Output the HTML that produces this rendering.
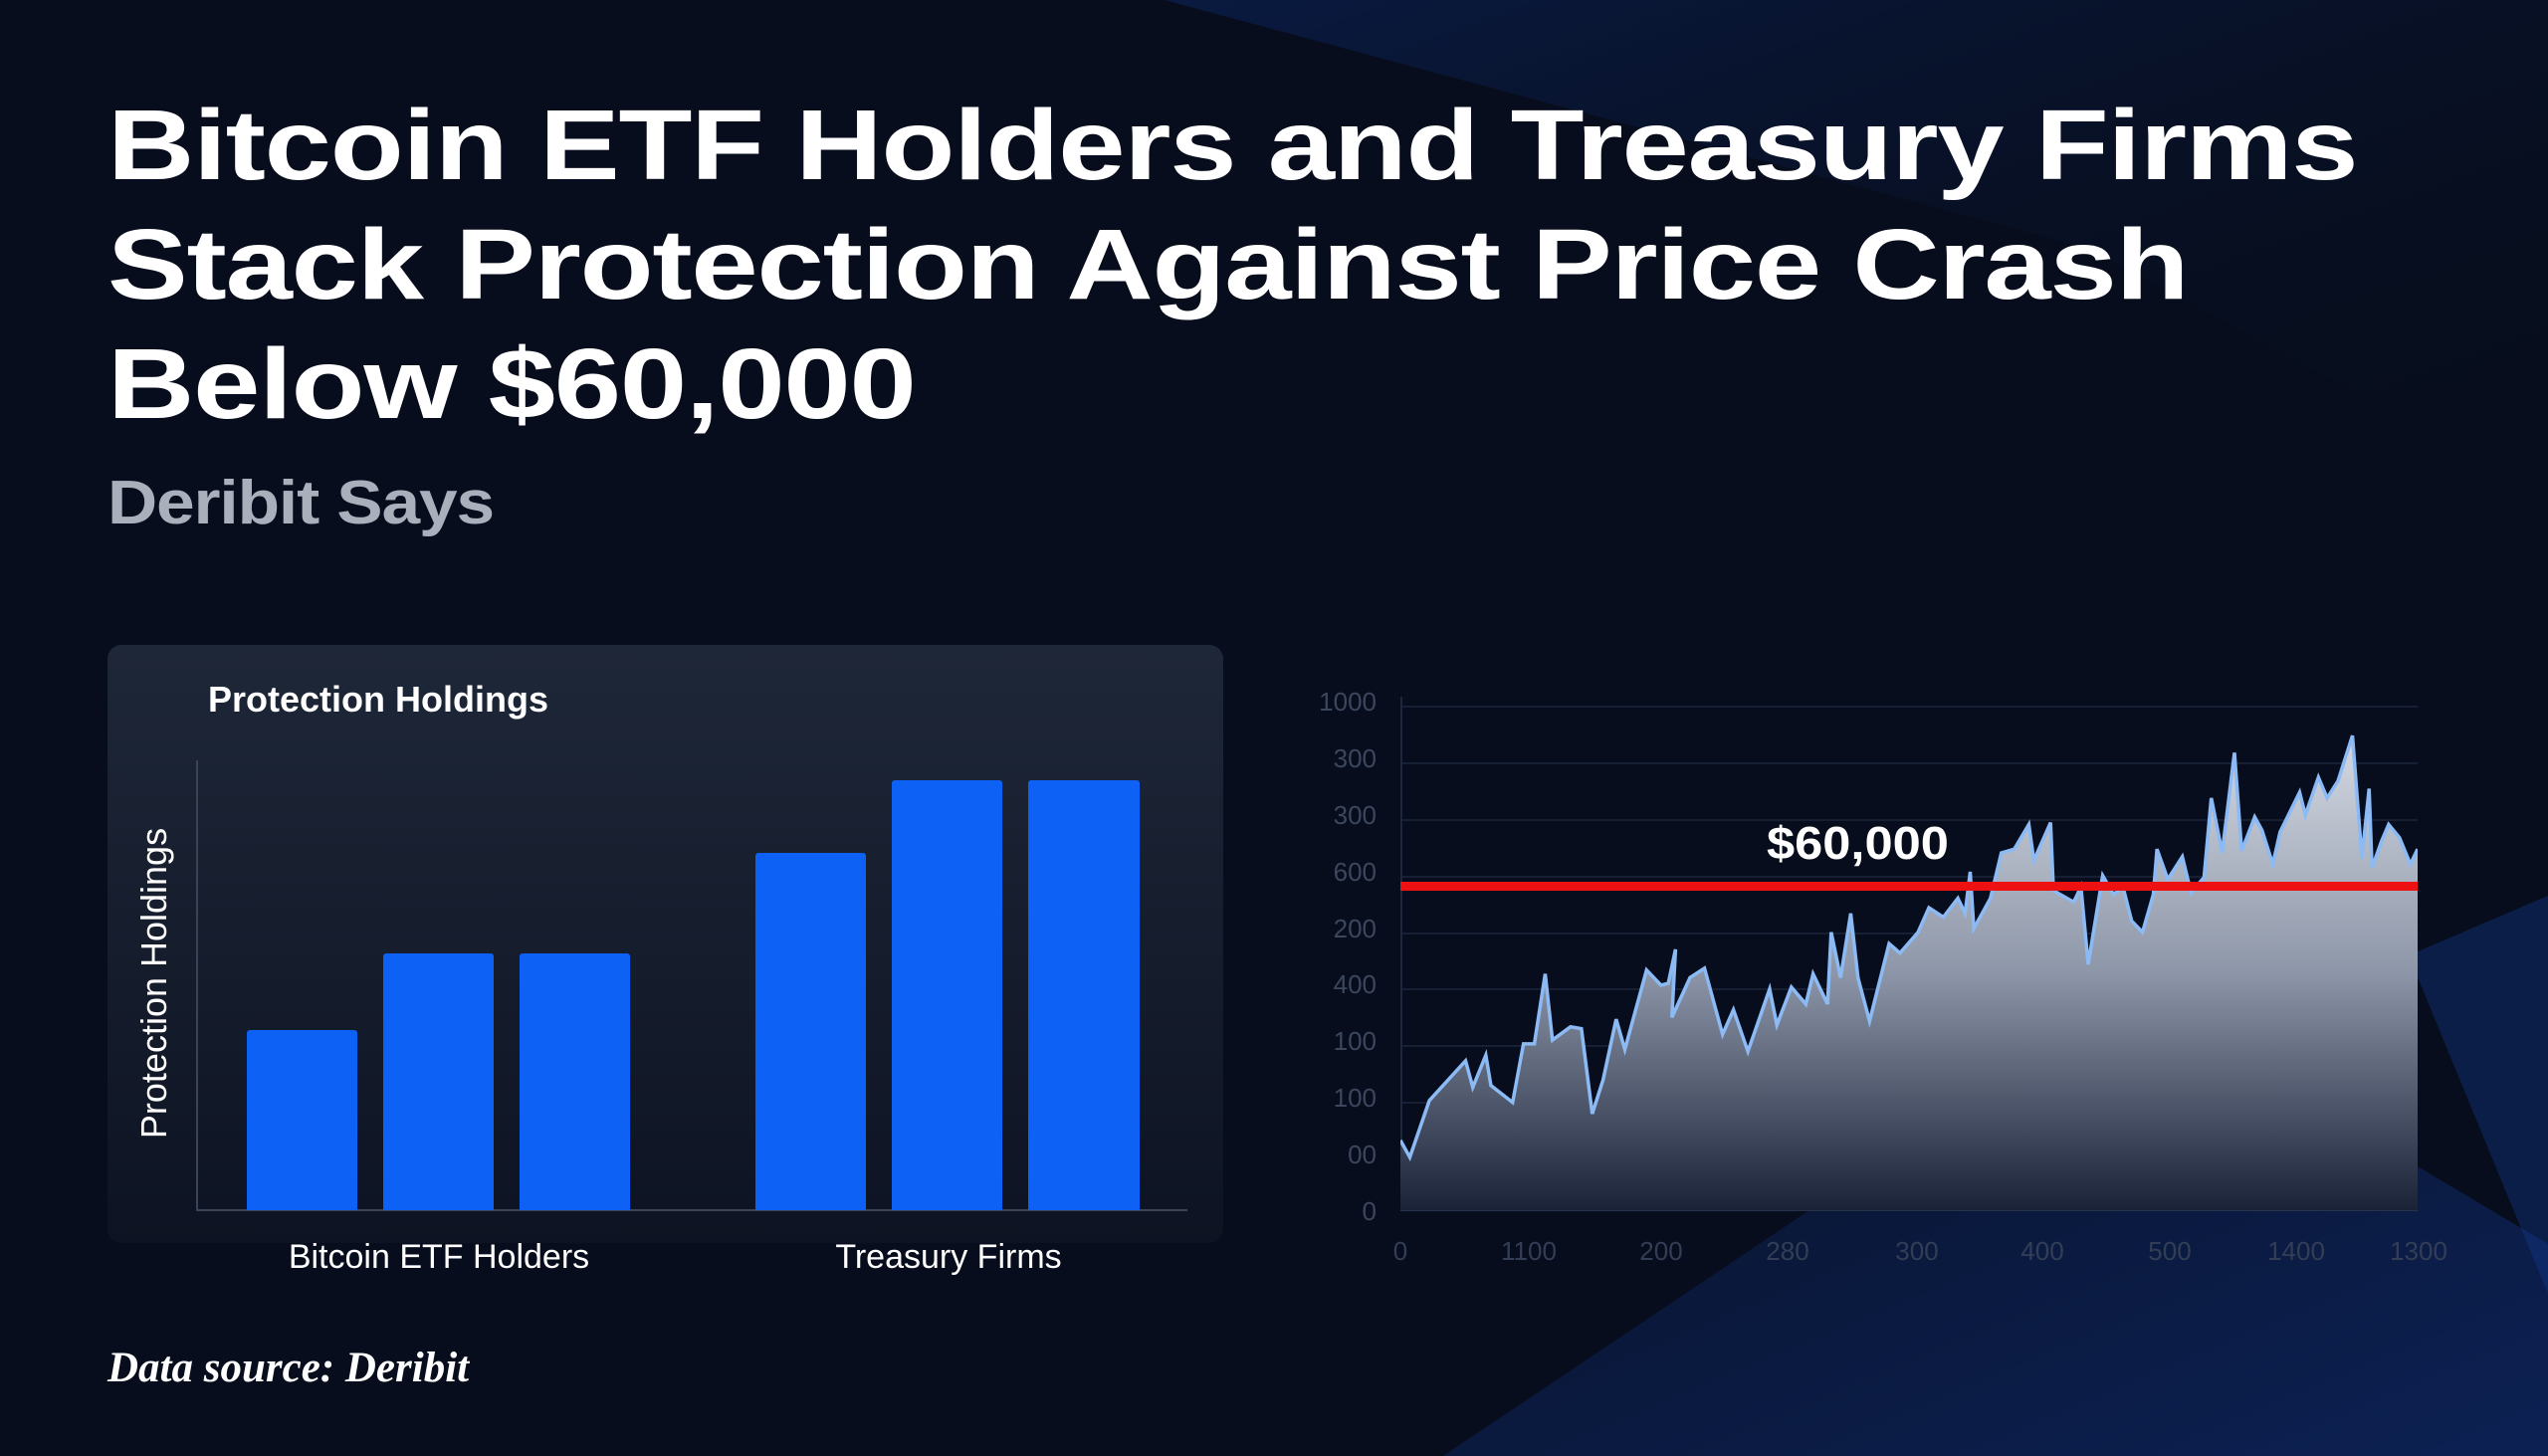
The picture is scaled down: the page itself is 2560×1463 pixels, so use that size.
<!DOCTYPE html>
<html><head><meta charset="utf-8"><style>
html,body{margin:0;padding:0;}
body{width:2560px;height:1463px;position:relative;overflow:hidden;background:#070d1c;font-family:"Liberation Sans",sans-serif;}
.abs{position:absolute;}
h1{position:absolute;left:108px;top:86px;margin:0;font-size:100px;line-height:120px;color:#fff;font-weight:bold;letter-spacing:-1px;transform:scaleX(1.21);transform-origin:0 0;white-space:nowrap;}
.sub{left:108px;top:470px;font-size:62px;font-weight:bold;color:#a9b0bc;letter-spacing:-1px;transform:scaleX(1.12);transform-origin:0 0;}
.panel{left:108px;top:648px;width:1121px;height:601px;border-radius:14px;background:linear-gradient(180deg,#1e2738 0%,#141b2b 60%,#0d1322 100%);}
.bar{position:absolute;background:#0d62f5;border-radius:3px 3px 0 0;}
.yl{color:#3c475e;font-size:26px;text-align:right;width:60px;}
.xl{color:#333e56;font-size:26px;width:120px;text-align:center;}
</style></head><body>
<svg class="abs" style="left:0;top:0" width="2560" height="1463">
<defs>
<linearGradient id="tr" x1="0" y1="0" x2="1" y2="1"><stop offset="0" stop-color="#0d2c73" stop-opacity="0.7"/><stop offset="1" stop-color="#070d1c" stop-opacity="0"/></linearGradient>
<linearGradient id="br" x1="0" y1="0" x2="1" y2="1"><stop offset="0" stop-color="#0a1430"/><stop offset="1" stop-color="#0f2e78"/></linearGradient>
<linearGradient id="fill" x1="0" y1="0" x2="0" y2="1"><stop offset="0" stop-color="#d4d9e2"/><stop offset="0.5" stop-color="#8d96a8"/><stop offset="1" stop-color="#1a2238"/></linearGradient>
</defs>
<polygon points="1170,0 2560,0 2560,500 2100,250" fill="url(#tr)" opacity="0.6"/>
<polygon points="1450,1463 2140,1000 2560,1250 2560,1463" fill="url(#br)" opacity="0.6"/>
<polygon points="2420,960 2560,900 2560,1300" fill="#123a8c" opacity="0.4"/>
</svg>
<h1>Bitcoin ETF Holders and Treasury Firms<br>Stack Protection Against Price Crash<br>Below $60,000</h1>
<div class="abs sub">Deribit Says</div>
<div class="abs panel"></div>
<div class="abs" style="left:209px;top:682px;font-size:36px;font-weight:bold;color:#fff;">Protection Holdings</div>
<div class="abs" style="left:155px;top:988px;transform:translate(-50%,-50%) rotate(-90deg);font-size:36px;color:#fff;white-space:nowrap;">Protection Holdings</div>
<div class="abs" style="left:197px;top:764px;width:2px;height:453px;background:#3a4458;"></div>
<div class="abs" style="left:197px;top:1215px;width:996px;height:2px;background:#3a4458;"></div>
<div class="bar" style="left:248px;top:1035px;width:111px;height:181px;"></div>
<div class="bar" style="left:385px;top:958px;width:111px;height:258px;"></div>
<div class="bar" style="left:522px;top:958px;width:111px;height:258px;"></div>
<div class="bar" style="left:759px;top:857px;width:111px;height:359px;"></div>
<div class="bar" style="left:896px;top:784px;width:111px;height:432px;"></div>
<div class="bar" style="left:1033px;top:784px;width:112px;height:432px;"></div>
<div class="abs" style="left:241px;top:1244px;width:400px;text-align:center;font-size:34px;color:#fff;">Bitcoin ETF Holders</div>
<div class="abs" style="left:753px;top:1244px;width:400px;text-align:center;font-size:34px;color:#fff;">Treasury Firms</div>
<div class="abs" style="left:108px;top:1350px;font-family:'Liberation Serif',serif;font-style:italic;font-weight:bold;font-size:43px;color:#fff;">Data source: Deribit</div>

<svg class="abs" style="left:1407px;top:700px" width="1022" height="520">
<g stroke="#161f34" stroke-width="2">
<line x1="0" y1="10" x2="1022" y2="10"/><line x1="0" y1="67" x2="1022" y2="67"/><line x1="0" y1="124" x2="1022" y2="124"/><line x1="0" y1="181" x2="1022" y2="181"/><line x1="0" y1="238" x2="1022" y2="238"/><line x1="0" y1="294" x2="1022" y2="294"/><line x1="0" y1="351" x2="1022" y2="351"/><line x1="0" y1="408" x2="1022" y2="408"/><line x1="0" y1="459" x2="1022" y2="459"/>
</g>
<line x1="1" y1="0" x2="1" y2="516" stroke="#1c263c" stroke-width="2"/>
<line x1="0" y1="516" x2="1022" y2="516" stroke="#28334c" stroke-width="2"/>
</svg>
<svg class="abs" style="left:1407px;top:705px" width="1022" height="511" viewBox="120 70 1405 1345" preserveAspectRatio="none">
<polygon fill="url(#fill)" points="120,1415 120,1230 133,1275 160,1125 210,1020 220,1090 238,1005 245,1085 275,1130 290,975 305,975 320,790 330,965 355,930 370,935 385,1160 400,1070 418,910 430,990 460,780 480,820 490,815 500,725 495,905 520,800 540,775 565,950 580,885 600,995 630,830 640,925 660,825 680,870 690,790 710,870 715,680 728,800 742,630 752,800 768,915 795,710 810,735 835,680 850,615 870,640 890,590 900,630 907,520 912,670 935,590 950,470 968,460 988,395 995,490 1018,390 1022,570 1050,600 1060,560 1070,765 1090,530 1105,580 1118,560 1130,650 1145,680 1160,580 1165,460 1180,540 1200,480 1212,575 1230,535 1240,325 1255,470 1272,205 1282,465 1300,375 1310,410 1325,500 1335,415 1362,310 1370,370 1388,270 1400,325 1415,280 1435,160 1448,485 1458,300 1462,510 1475,440 1485,395 1500,430 1515,500 1525,460 1525,1415"/>
<polyline fill="none" stroke="#8cbaf4" stroke-width="3.5" vector-effect="non-scaling-stroke" points="120,1230 133,1275 160,1125 210,1020 220,1090 238,1005 245,1085 275,1130 290,975 305,975 320,790 330,965 355,930 370,935 385,1160 400,1070 418,910 430,990 460,780 480,820 490,815 500,725 495,905 520,800 540,775 565,950 580,885 600,995 630,830 640,925 660,825 680,870 690,790 710,870 715,680 728,800 742,630 752,800 768,915 795,710 810,735 835,680 850,615 870,640 890,590 900,630 907,520 912,670 935,590 950,470 968,460 988,395 995,490 1018,390 1022,570 1050,600 1060,560 1070,765 1090,530 1105,580 1118,560 1130,650 1145,680 1160,580 1165,460 1180,540 1200,480 1212,575 1230,535 1240,325 1255,470 1272,205 1282,465 1300,375 1310,410 1325,500 1335,415 1362,310 1370,370 1388,270 1400,325 1415,280 1435,160 1448,485 1458,300 1462,510 1475,440 1485,395 1500,430 1515,500 1525,460"/>
</svg>
<div class="abs" style="left:1407px;top:886px;width:1022px;height:9px;background:#ee1111;"></div>
<div class="abs" style="left:1775px;top:820px;font-size:46px;font-weight:bold;color:#fff;transform:scaleX(1.1);transform-origin:0 0;">$60,000</div>
<div class="abs yl" style="left:1323px;top:690px;">1000</div>
<div class="abs yl" style="left:1323px;top:747px;">300</div>
<div class="abs yl" style="left:1323px;top:804px;">300</div>
<div class="abs yl" style="left:1323px;top:861px;">600</div>
<div class="abs yl" style="left:1323px;top:918px;">200</div>
<div class="abs yl" style="left:1323px;top:974px;">400</div>
<div class="abs yl" style="left:1323px;top:1031px;">100</div>
<div class="abs yl" style="left:1323px;top:1088px;">100</div>
<div class="abs yl" style="left:1323px;top:1145px;">00</div>
<div class="abs yl" style="left:1323px;top:1202px;">0</div>
<div class="abs xl" style="left:1347px;top:1242px;">0</div>
<div class="abs xl" style="left:1476px;top:1242px;">1100</div>
<div class="abs xl" style="left:1609px;top:1242px;">200</div>
<div class="abs xl" style="left:1736px;top:1242px;">280</div>
<div class="abs xl" style="left:1866px;top:1242px;">300</div>
<div class="abs xl" style="left:1992px;top:1242px;">400</div>
<div class="abs xl" style="left:2120px;top:1242px;">500</div>
<div class="abs xl" style="left:2247px;top:1242px;">1400</div>
<div class="abs xl" style="left:2370px;top:1242px;">1300</div>
</body></html>
